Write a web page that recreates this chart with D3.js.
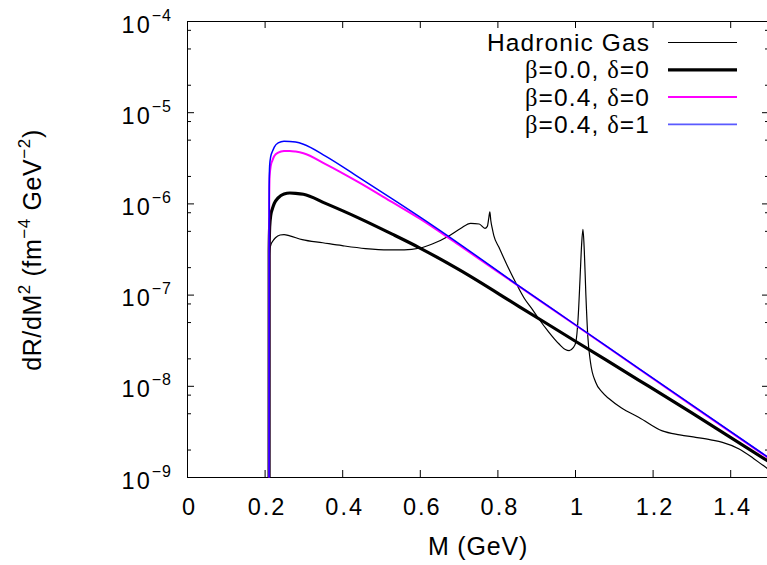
<!DOCTYPE html>
<html><head><meta charset="utf-8">
<script src="https://cdn.jsdelivr.net/npm/d3@7/dist/d3.min.js"></script>
<style>body{margin:0;background:#fff}svg{display:block}</style>
</head><body>
<svg id="chart" width="767" height="565"></svg>
<script>
// ---- data ----
const xTicks = [0, 0.2, 0.4, 0.6, 0.8, 1, 1.2, 1.4];
const xTickLabels = ["0", "0.2", "0.4", "0.6", "0.8", "1", "1.2", "1.4"];
const yMajorExponents = [-4, -5, -6, -7, -8, -9];
const yMinorMantissas = [2, 5, 8];
const seriesNames = ["Hadronic Gas", "β=0.0, δ=0", "β=0.4, δ=0", "β=0.4, δ=1"];

const massQGP = [0.2114, 0.2118, 0.213, 0.216, 0.22, 0.225, 0.235, 0.25, 0.265, 0.28, 0.3,
  0.357, 0.443, 0.529, 0.598, 0.7, 0.856, 1.0, 1.165, 1.3, 1.5];
const rateBeta00 = [1e-11, 3e-7, 5.5e-7, 7.5e-7, 8.7e-7, 1.0e-6, 1.15e-6, 1.27e-6, 1.30e-6, 1.29e-6, 1.26e-6,
  1.0e-6, 6.9e-7, 4.6e-7, 3.28e-7, 1.89e-7, 7.4e-8, 3.1e-8, 1.15e-8, 5.08e-9, 1.47e-9];
const rateBeta04d0 = [1e-11, 1.0e-6, 2.0e-6, 2.6e-6, 2.95e-6, 3.3e-6, 3.6e-6, 3.75e-6, 3.76e-6, 3.7e-6, 3.55e-6,
  2.7e-6, 1.7e-6, 1.03e-6, 6.87e-7, 3.52e-7, 1.23e-7, 4.67e-8, 1.53e-8, 6.15e-9, 1.6e-9];
const rateBeta04d1 = [1e-11, 1.5e-6, 2.6e-6, 3.3e-6, 3.7e-6, 4.15e-6, 4.6e-6, 4.8e-6, 4.78e-6, 4.7e-6, 4.45e-6,
  3.3e-6, 1.93e-6, 1.12e-6, 7.2e-7, 3.65e-7, 1.24e-7, 4.7e-8, 1.54e-8, 6.2e-9, 1.62e-9];

const massHadron = [0.2114, 0.2118, 0.213, 0.216, 0.22, 0.228, 0.24, 0.25, 0.265, 0.297, 0.35, 0.4, 0.46,
  0.52, 0.56, 0.598, 0.632, 0.675, 0.705, 0.731, 0.753, 0.768, 0.774, 0.778, 0.7805, 0.783, 0.787, 0.791,
  0.804, 0.825, 0.847, 0.87, 0.89, 0.907, 0.93, 0.959, 0.975, 0.985, 0.995, 1.002, 1.008, 1.013, 1.017,
  1.0205, 1.024, 1.028, 1.033, 1.04, 1.053, 1.07, 1.088, 1.12, 1.165, 1.225, 1.27, 1.311, 1.35, 1.38,
  1.423, 1.46, 1.5];
const rateHadron = [1e-11, 2.0e-7, 3.0e-7, 3.5e-7, 3.8e-7, 4.2e-7, 4.5e-7, 4.55e-7, 4.4e-7, 4.0e-7, 3.7e-7,
  3.44e-7, 3.2e-7, 3.1e-7, 3.1e-7, 3.22e-7, 3.59e-7, 4.4e-7, 5.3e-7, 6.05e-7, 5.94e-7, 5.33e-7, 5.6e-7,
  7.0e-7, 8.1e-7, 6.5e-7, 5.25e-7, 4.4e-7, 3.3e-7, 2.1e-7, 1.36e-7, 9.0e-8, 6.9e-8, 5.4e-8, 4.0e-8,
  2.87e-8, 2.5e-8, 2.43e-8, 2.6e-8, 3.0e-8, 5.5e-8, 1.5e-7, 3.5e-7, 5.2e-7, 3.0e-7, 1.0e-7, 3.5e-8,
  1.8e-8, 1.1e-8, 8.5e-9, 7.2e-9, 5.7e-9, 4.5e-9, 3.2e-9, 2.9e-9, 2.72e-9, 2.55e-9, 2.4e-9, 2.03e-9,
  1.6e-9, 1.2e-9];

// ---- layout ----
const svg = d3.select('#chart');
const FONT = "'Liberation Sans', Arial, Helvetica, sans-serif";
const x = d3.scaleLinear().domain([0, 1.5]).range([187, 769]);
const y = d3.scaleLog().domain([1e-9, 1e-4]).range([477, 21]);
const X0 = x.range()[0], X1 = x.range()[1], Y0 = y.range()[0], Y1 = y.range()[1];

const majorVals = yMajorExponents.map(e => Math.pow(10, e));
const minorVals = [];
yMajorExponents.forEach(e => { if (e < -4) yMinorMantissas.forEach(m => minorVals.push(m * Math.pow(10, e))); });

svg.append('defs').append('clipPath').attr('id', 'clip')
  .append('rect').attr('x', X0 + 0.5).attr('y', Y1 + 0.5).attr('width', X1 - X0).attr('height', Y0 - Y1);

function styleAxis(g) {
  g.select('.domain').remove();
  g.selectAll('.tick line').attr('stroke', '#000').attr('stroke-width', 1);
  g.selectAll('.tick text').remove();
}
// bottom & top ticks
svg.append('g').attr('transform', `translate(0,${Y0})`)
  .call(d3.axisBottom(x).tickValues(xTicks).tickSize(-7)).call(styleAxis);
svg.append('g').attr('transform', `translate(0,${Y1})`)
  .call(d3.axisTop(x).tickValues(xTicks).tickSize(-7)).call(styleAxis);
// left & right ticks
svg.append('g').attr('transform', `translate(${X0},0)`)
  .call(d3.axisLeft(y).tickValues(majorVals).tickSize(-7)).call(styleAxis);
svg.append('g').attr('transform', `translate(${X0},0)`)
  .call(d3.axisLeft(y).tickValues(minorVals).tickSize(-4)).call(styleAxis);
svg.append('g').attr('transform', `translate(${X1},0)`)
  .call(d3.axisRight(y).tickValues(majorVals).tickSize(-7)).call(styleAxis);
svg.append('g').attr('transform', `translate(${X1},0)`)
  .call(d3.axisRight(y).tickValues(minorVals).tickSize(-4)).call(styleAxis);

// border
svg.append('rect').attr('x', X0 + 0.5).attr('y', Y1 + 0.5).attr('width', X1 - X0).attr('height', Y0 - Y1)
  .attr('fill', 'none').attr('stroke', '#000').attr('stroke-width', 1);

// x tick labels
svg.append('g').selectAll('text').data(xTicks).join('text')
  .attr('x', d => x(d) + 2.5).attr('y', 515)
  .attr('text-anchor', 'middle').attr('font-family', FONT).attr('font-size', 23.5)
  .attr('letter-spacing', 2).attr('fill', '#000')
  .text((d, i) => xTickLabels[i]);

// y tick labels
yMajorExponents.forEach(e => {
  const t = svg.append('text').attr('x', 172).attr('y', y(Math.pow(10, e)) + 11.5)
    .attr('text-anchor', 'end').attr('font-family', FONT).attr('font-size', 23.5)
    .attr('letter-spacing', 2).attr('fill', '#000');
  t.append('tspan').text('10');
  t.append('tspan').attr('dy', -12).attr('font-size', 16).attr('letter-spacing', 1).text('−' + Math.abs(e));
});

// axis titles
svg.append('text').attr('x', 478).attr('y', 555).attr('text-anchor', 'middle')
  .attr('font-family', FONT).attr('font-size', 25).attr('letter-spacing', 0.8).text('M (GeV)');

const yt = svg.append('text').attr('transform', 'translate(41,250) rotate(-90)')
  .attr('text-anchor', 'middle').attr('font-family', FONT).attr('font-size', 25).attr('letter-spacing', 0.6);
yt.append('tspan').text('dR/dM');
yt.append('tspan').attr('dy', -11).attr('font-size', 17).text('2');
yt.append('tspan').attr('dy', 11).text(' (fm');
yt.append('tspan').attr('dy', -11).attr('font-size', 17).text('−4');
yt.append('tspan').attr('dy', 11).text(' GeV');
yt.append('tspan').attr('dy', -11).attr('font-size', 17).text('−2');
yt.append('tspan').attr('dy', 11).text(')');

// curves
const line = d3.line().x(d => x(d[0])).y(d => y(d[1])).curve(d3.curveMonotoneX);
const series = [
  { m: massHadron, v: rateHadron, color: '#000', w: 1.2 },
  { m: massQGP, v: rateBeta00, color: '#000', w: 3.2 },
  { m: massQGP, v: rateBeta04d0, color: '#ff00ff', w: 2 },
  { m: massQGP, v: rateBeta04d1, color: '#0000ff', w: 1.5 }
];
const plot = svg.append('g').attr('clip-path', 'url(#clip)');
series.forEach(s => {
  plot.append('path').datum(s.m.map((mm, i) => [mm, s.v[i]]))
    .attr('fill', 'none').attr('stroke', s.color).attr('stroke-width', s.w)
    .attr('stroke-linejoin', 'round').attr('d', line);
});

// legend
const legendW = [1, 3.2, 2, 1.6];
const legendC = ['#000', '#000', '#ff00ff', '#5a5aff'];
seriesNames.forEach((name, i) => {
  const cy = 42.5 + i * 27.3;
  const t = svg.append('text').attr('x', 650).attr('y', cy + 8.5).attr('text-anchor', 'end')
    .attr('font-family', FONT).attr('font-size', 24.5).attr('letter-spacing', 1.1).attr('fill', '#000');
  if (i === 0) t.text(name);
  else {
    name.split(/([βδ])/).forEach(part => {
      if (!part) return;
      const ts = t.append('tspan').text(part);
      if (part === 'β' || part === 'δ') ts.attr('font-family', "'Liberation Serif', 'Times New Roman', serif");
    });
  }
  svg.append('line').attr('x1', 668).attr('x2', 737).attr('y1', cy).attr('y2', cy)
    .attr('stroke', legendC[i]).attr('stroke-width', legendW[i]);
});
</script>
</body></html>
